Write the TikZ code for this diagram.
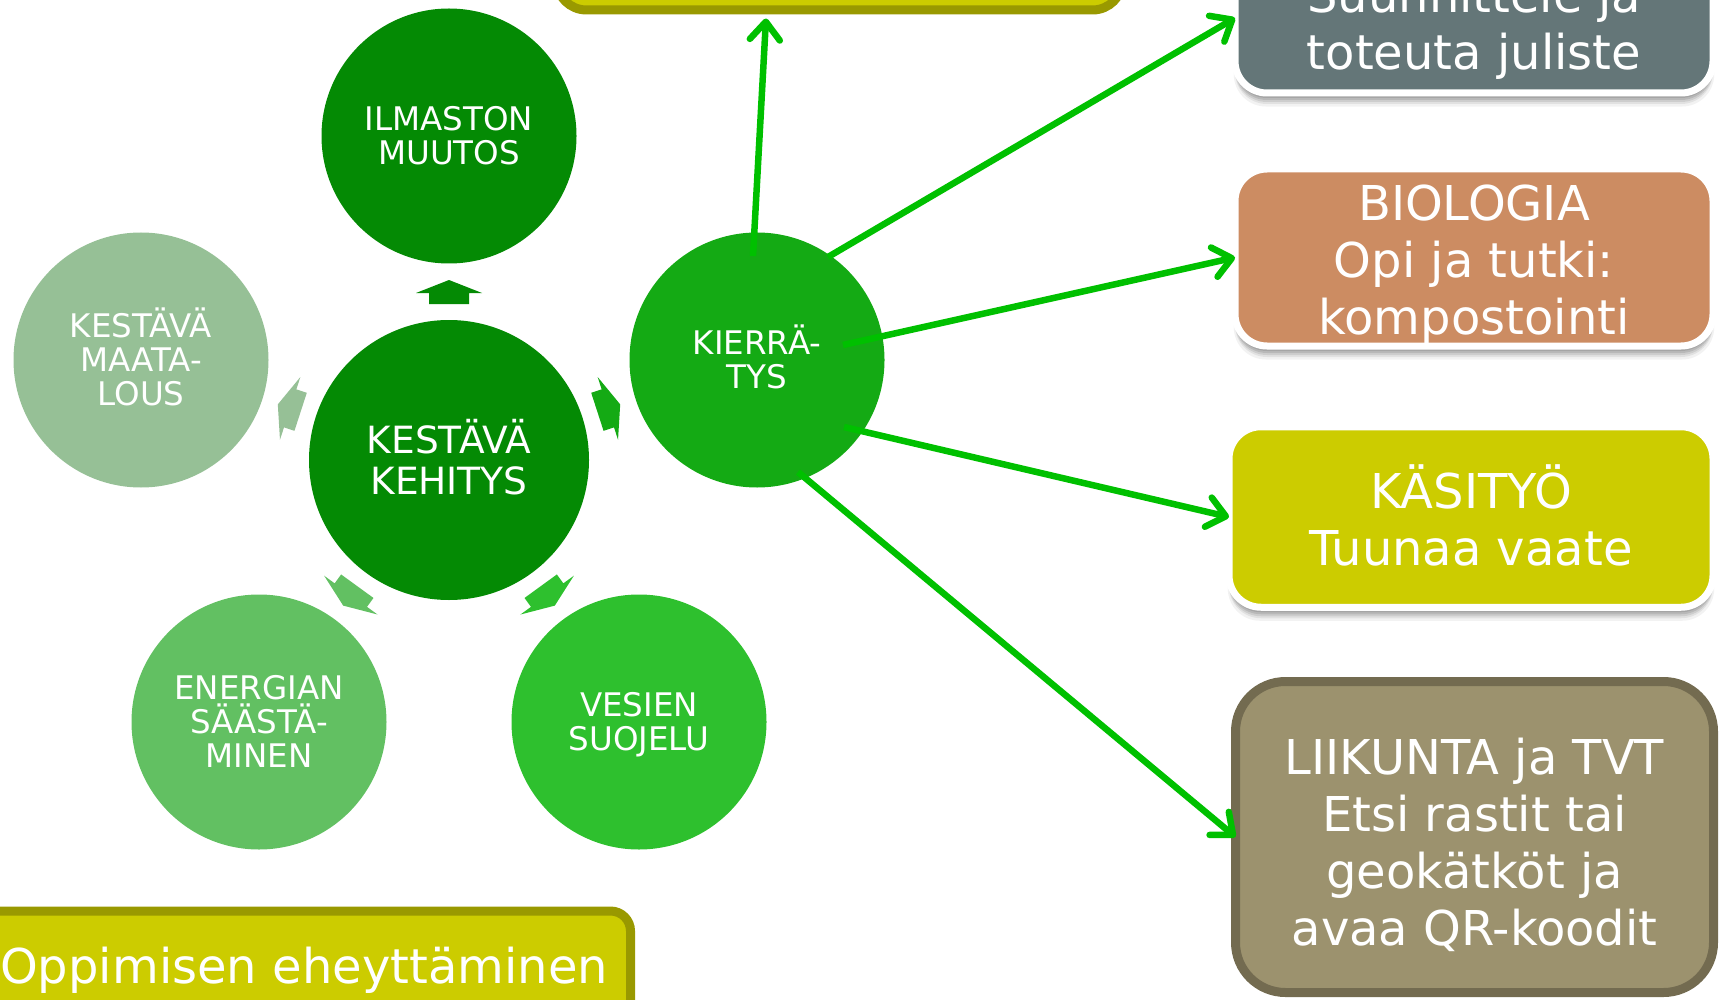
\documentclass[tikz,border=0pt]{standalone}
\usepackage{fontspec}
\setmainfont{DejaVu Sans}
\usetikzlibrary{arrows.meta,calc,shadows}
\definecolor{cDark}{RGB}{4,138,4}
\definecolor{cMaa}{RGB}{150,192,150}
\definecolor{cEne}{RGB}{98,192,98}
\definecolor{cVes}{RGB}{46,192,46}
\definecolor{cKie}{RGB}{20,170,20}
\definecolor{cLink}{RGB}{0,192,0}
\definecolor{cGray}{RGB}{100,118,120}
\definecolor{cBio}{RGB}{204,140,98}
\definecolor{cYel}{RGB}{204,204,0}
\definecolor{cOlive}{RGB}{153,153,0}
\definecolor{cLii}{RGB}{156,146,110}
\definecolor{cLiiB}{RGB}{115,107,80}
\begin{document}
\begin{tikzpicture}[x=1pt,y=-1pt,
  circ/.style={circle, inner sep=0pt, minimum size=255pt, draw=none},
  ctext/.style={text=white, align=center, font=\fontsize{32.5}{34}\selectfont, anchor=base, inner sep=0pt},
  btext/.style={text=white, align=center, font=\fontsize{48}{57}\selectfont, anchor=base, inner sep=0pt},
  wbox/.style={rectangle, rounded corners=32pt, draw=white, line width=7pt, outer sep=0pt,
    inner sep=0pt, minimum width=478pt,
    drop shadow={shadow xshift=0pt, shadow yshift=-13pt, shadow scale=1.005, opacity=0.05, fill=black},
    drop shadow={shadow xshift=0pt, shadow yshift=-11pt, opacity=0.07, fill=black},
    drop shadow={shadow xshift=0pt, shadow yshift=-9pt, opacity=0.09, fill=black},
    drop shadow={shadow xshift=0pt, shadow yshift=-7pt, opacity=0.1, fill=black},
    drop shadow={shadow xshift=0pt, shadow yshift=-5pt, opacity=0.1, fill=black}},
  obox/.style={rectangle, draw=cOlive, fill=cYel, line width=9pt, outer sep=0pt, inner sep=0pt},
  link/.style={draw=cLink, line width=6.5pt, -{Straight Barb[length=18pt,width=30pt,round]}},
]
\useasboundingbox (0,0) rectangle (1723,1000);
\clip (0,0) rectangle (1723,1000);

% top box (cut off)
\node[obox, rounded corners=30pt, minimum width=566pt, minimum height=160pt] (top) at (839.5,-70) {};

% right boxes (text nodes anchored at the baseline of their last line)
\node[wbox, fill=cGray, minimum height=177pt] (gray) at (1474,4.5) {};
\node[btext] (grayt) at (1474,70) {Suunnittele ja\\toteuta juliste};

\node[wbox, fill=cBio, minimum height=177pt] (bio) at (1474,257.5) {};
\node[btext] (biot) at (1474,334) {BIOLOGIA\\Opi ja tutki:\\kompostointi};

\node[wbox, fill=cYel, minimum width=484pt, minimum height=180.5pt] (kas) at (1471,517) {};
\node[btext] (kast) at (1471,565) {KÄSITYÖ\\Tuunaa vaate};

\node[rectangle, rounded corners=50pt, draw=cLiiB, fill=cLii, line width=9pt, outer sep=0pt,
  inner sep=0pt, minimum width=478pt, minimum height=311pt] (lii) at (1474.5,837) {};
\node[btext] (liit) at (1474.5,945) {LIIKUNTA ja TVT\\Etsi rastit tai\\geokätköt ja\\avaa QR-koodit};

% bottom-left box
\node[obox, rounded corners=20pt, minimum width=680pt, minimum height=150pt] (opp) at (290.5,986) {};
\node[btext, anchor=base west] (oppt) at (0,983) {Oppimisen eheyttäminen};

% circles
\node[circ, fill=cDark, minimum size=280pt] (keh) at (449,460) {};
\node[circ, fill=cDark] (ilm) at (449,136) {};
\node[circ, fill=cMaa] (maa) at (141,360) {};
\node[circ, fill=cKie] (kie) at (757,360) {};
\node[circ, fill=cEne] (ene) at (259,722) {};
\node[circ, fill=cVes] (ves) at (639,722) {};

\node[btext, font=\fontsize{37.5}{41}\selectfont] (keht) at (449,494) {KESTÄVÄ\\KEHITYS};
\node[ctext] (ilmt) at (449,164.6) {ILMASTON\\MUUTOS};
\node[ctext] (maat) at (141,405.6) {KESTÄVÄ\\MAATA-\\LOUS};
\node[ctext] (kiet) at (757,388.6) {KIERRÄ-\\TYS};
\node[ctext] (enet) at (259,767.6) {ENERGIAN\\SÄÄSTÄ-\\MINEN};
\node[ctext] (vest) at (639,750.6) {VESIEN\\SUOJELU};

% small block arrows
\foreach \ang/\col in {90/cDark,162/cMaa,234/cEne,306/cVes,18/cKie}{
  \begin{scope}[shift={(keh.center)}, rotate=\ang]
    \fill[\col] (156,-20) -- (167,-20) -- (167,-33) -- (180,0) -- (167,33) -- (167,20) -- (156,20) -- cycle;
  \end{scope}
}

% connectors from KIERRÄTYS
\coordinate (s1) at ($(kie.center)+(-4,-104)$);
\coordinate (s2) at ($(kie.center)+(71,-103)$);
\coordinate (s3) at ($(kie.center)+(86,-15)$);
\coordinate (s4) at ($(kie.center)+(87,67)$);
\coordinate (s5) at ($(kie.center)+(41,112)$);
\coordinate (e1) at ([xshift=-73.5pt, yshift=-8.5pt]top.south);
\coordinate (e2) at ([yshift=-13.5pt]gray.west);
\draw[link] (s1) -- (e1);
\draw[link] (s2) -- (e2);
\draw[link] (s3) -- (bio.west);
\draw[link] (s4) -- (kas.west);
\draw[link] (s5) -- (lii.west);
\end{tikzpicture}
\end{document}
